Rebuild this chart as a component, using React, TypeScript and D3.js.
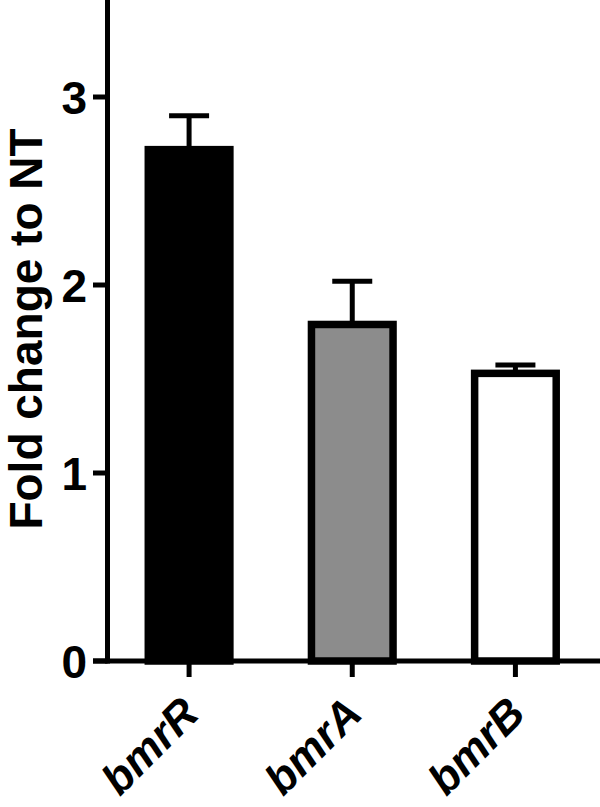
import { useRef, useEffect } from 'react';
import * as d3 from 'd3';

// data
const genes = ['bmrR', 'bmrA', 'bmrB'];
const means = [2.72, 1.79, 1.53];
const sems = [0.18, 0.23, 0.045];
const fills = ['#000000', '#8c8c8c', '#ffffff'];
const yTicks = [0, 1, 2, 3];

const App = () => {
    const svgRef = useRef<SVGSVGElement>(null);

    useEffect(() => {
        const w = 600;
        const h = 807;
        const svg = d3.select(svgRef.current)
            .attr('width', w)
            .attr('height', h);
        svg.selectAll('*').remove();

        const x0 = 107.5;
        const x1 = 597;
        const yZero = 661;
        const font = '"Liberation Sans", Arial, sans-serif';

        const xScale = d3.scaleBand<string>()
            .domain(genes)
            .range([x0, x1])
            .paddingInner(0.5)
            .paddingOuter(0.25);
        const yScale = d3.scaleLinear()
            .domain([0, 3.5])
            .range([yZero, yZero - 3.5 * 188]);

        // bars
        svg.selectAll('rect.bar')
            .data(genes)
            .enter()
            .append('rect')
                .attr('class', 'bar')
                .attr('x', d => xScale(d)!)
                .attr('y', (d, i) => yScale(means[i]))
                .attr('width', xScale.bandwidth())
                .attr('height', (d, i) => yZero - yScale(means[i]))
                .attr('fill', (d, i) => fills[i])
                .attr('stroke', '#000')
                .attr('stroke-width', 7.5);

        // error bars (upper only)
        const cx = (d: string) => xScale(d)! + xScale.bandwidth() / 2;
        svg.selectAll('line.err')
            .data(genes)
            .enter()
            .append('line')
                .attr('x1', cx)
                .attr('x2', cx)
                .attr('y1', (d, i) => yScale(means[i]) - 3)
                .attr('y2', (d, i) => yScale(means[i] + sems[i]))
                .attr('stroke', '#000')
                .attr('stroke-width', 5);
        svg.selectAll('line.cap')
            .data(genes)
            .enter()
            .append('line')
                .attr('x1', d => cx(d) - 20)
                .attr('x2', d => cx(d) + 20)
                .attr('y1', (d, i) => yScale(means[i] + sems[i]))
                .attr('y2', (d, i) => yScale(means[i] + sems[i]))
                .attr('stroke', '#000')
                .attr('stroke-width', 5);

        // y axis
        svg.append('line')
            .attr('x1', x0).attr('x2', x0)
            .attr('y1', 0).attr('y2', yZero + 2.5)
            .attr('stroke', '#000').attr('stroke-width', 5);
        svg.selectAll('line.ytick')
            .data(yTicks)
            .enter()
            .append('line')
                .attr('x1', 93).attr('x2', x0)
                .attr('y1', d => yScale(d)).attr('y2', d => yScale(d))
                .attr('stroke', '#000').attr('stroke-width', 5);
        svg.selectAll('text.ytick')
            .data(yTicks)
            .enter()
            .append('text')
                .attr('x', 87)
                .attr('y', d => yScale(d) + 17)
                .attr('text-anchor', 'end')
                .style('font-family', font)
                .style('font-weight', 'bold')
                .style('font-size', '46px')
                .text(d => d);

        // x axis
        svg.append('line')
            .attr('x1', 93).attr('x2', 600)
            .attr('y1', yZero).attr('y2', yZero)
            .attr('stroke', '#000').attr('stroke-width', 5);
        svg.selectAll('line.xtick')
            .data(genes)
            .enter()
            .append('line')
                .attr('x1', cx).attr('x2', cx)
                .attr('y1', yZero).attr('y2', yZero + 16)
                .attr('stroke', '#000').attr('stroke-width', 5);
        svg.selectAll('text.xtick')
            .data(genes)
            .enter()
            .append('text')
                .attr('transform', d => `translate(${cx(d) + 12}, 716) rotate(-45)`)
                .attr('text-anchor', 'end')
                .style('font-family', font)
                .style('font-weight', 'bold')
                .style('font-style', 'italic')
                .style('font-size', '44px')
                .text(d => d);

        // y axis title
        svg.append('text')
            .attr('transform', 'translate(42, 329) rotate(-90)')
            .attr('text-anchor', 'middle')
            .style('font-family', font)
            .style('font-weight', 'bold')
            .style('font-size', '46px')
            .text('Fold change to NT');
    }, []);

    return (
        <div>
            <svg ref={svgRef} style={{ position: 'absolute', left: 0, top: 0, background: '#fff' }}></svg>
        </div>
    );
};

export default App;
